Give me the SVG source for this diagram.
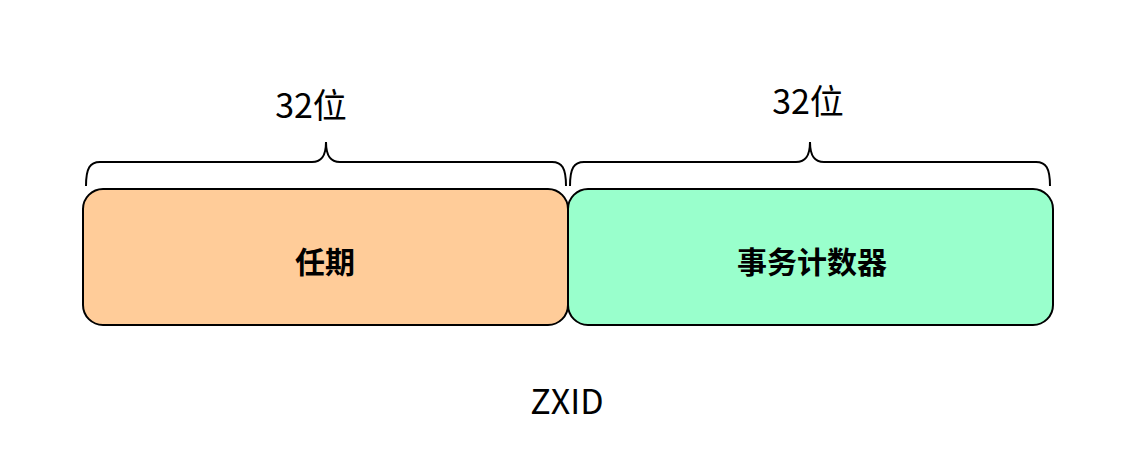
<svg xmlns="http://www.w3.org/2000/svg" width="1146" height="471" viewBox="0 0 1146 471">
<style>
.box{stroke:#000;stroke-width:2}
.br{fill:none;stroke:#000;stroke-width:2}
text{font-family:"Comic Sans MS","Noto Sans CJK SC",sans-serif;text-anchor:middle;fill:#000}
.lbl{font-size:30px;font-weight:bold}
.w{font-size:34px}
</style>
<rect width="1146" height="471" fill="#fff"/>
<g id="connectors">
<path class="br" d="M86,186 C86,168 90,162 100,162 L312,162 C320,162 326,158 326,142 C326,158 332,162 340,162 L552,162 C562,162 566,168 566,186"/>
<path class="br" d="M570,186 C570,168 574,162 584,162 L796,162 C804,162 810,158 810,142 C810,158 816,162 824,162 L1036,162 C1046,162 1050,168 1050,186"/>
</g>
<g id="term"><rect class="box" x="83" y="189" width="485" height="136" rx="20" fill="#FFCC99"/><text class="lbl" x="325" y="273">任期</text></g>
<g id="counter"><rect class="box" x="568" y="189" width="485" height="136" rx="20" fill="#99FFCC"/><text class="lbl" x="812" y="273">事务计数器</text></g>
<g id="lbl1"><text class="w" x="311" y="118">32位</text></g>
<g id="lbl2"><text class="w" x="808" y="114">32位</text></g>
<g id="zxid"><text class="w" x="567" y="414" font-size="38">ZXID</text></g>
</svg>
